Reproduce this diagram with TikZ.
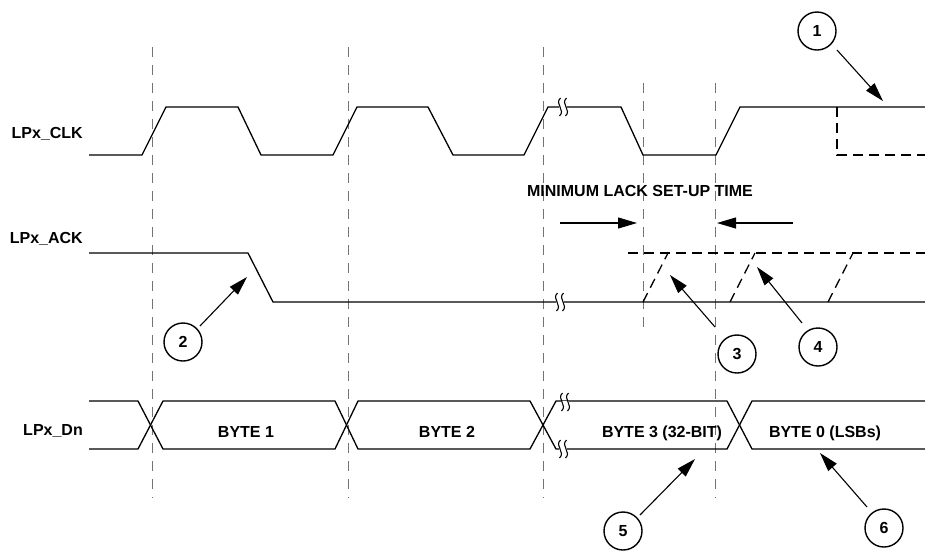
\documentclass[tikz,border=0pt]{standalone}
\usepackage{fontspec}
\setmainfont{Liberation Sans}
\usetikzlibrary{arrows.meta}
\begin{document}
\begin{tikzpicture}[x=1pt,y=-1pt,
  sig/.style={line width=1.3pt, line join=miter},
  gridline/.style={black!55, line width=0.9pt, dash pattern=on 10pt off 8pt},
  dsig/.style={line width=1.3pt, dash pattern=on 10pt off 6pt},
  lbl/.style={font=\fontsize{16}{19}\selectfont\bfseries, inner sep=0pt},
  callout/.style={circle, draw, line width=1.4pt, minimum size=38pt, inner sep=0pt, font=\fontsize{16}{19}\selectfont\bfseries},
  ptr/.style={-{Triangle[length=19pt,width=11pt]}, line width=1.1pt},
  brk/.pic={
    \fill[white] (-4,-1.3) rectangle (4,1.3);
    \draw[line width=1.1pt] (-2.5,-9) .. controls (-9,-3) and (3,3) .. (-3.5,9);
    \draw[line width=1.1pt] (3.5,-9) .. controls (-3,-3) and (9,3) .. (2.5,9);
  }]
\useasboundingbox (0,0) rectangle (925,550);

% vertical timing lines
\draw[gridline] (152,47) -- (152,498);
\draw[gridline] (348,47) -- (348,498);
\draw[gridline] (543,47) -- (543,498);
\draw[gridline] (643,83) -- (643,330);
\draw[gridline] (715,83) -- (715,498);

% signal labels
\node[lbl, anchor=base east] (lclk) at (83,138) {LPx\_CLK};
\node[lbl, anchor=base east] (lack) at (83,243) {LPx\_ACK};
\node[lbl, anchor=base east] (ldn) at (83,435) {LPx\_Dn};

% clock
\draw[sig] (89,155) -- (142,155) -- (166,107) -- (238,107) -- (261,155) -- (333,155) -- (357,107) -- (428,107) -- (453,155) -- (524,155) -- (548,107) -- (621,107) -- (643,155) -- (716,155) -- (740,107) -- (925,107);
\draw[dsig] (837,107) -- (837,155) -- (925,155);
\pic at (563,107) {brk};

% ack
\draw[sig] (89,253) -- (248,253) -- (273,302) -- (925,302);
\draw[dsig] (628,253) -- (925,253);
\draw[dsig] (643,302) -- (668,253);
\draw[dsig] (730,302) -- (755,253);
\draw[dsig] (828,302) -- (853,253);
\pic at (560,302) {brk};

% data
\draw[sig] (89,401) -- (138,401) -- (163,449) -- (335,449) -- (358,401) -- (530,401) -- (556,449) -- (727,449) -- (752,401) -- (925,401);
\draw[sig] (89,449) -- (138,449) -- (163,401) -- (335,401) -- (358,449) -- (530,449) -- (556,401) -- (727,401) -- (752,449) -- (925,449);
\pic at (565,402) {brk};
\pic at (563,449) {brk};

\node[lbl, anchor=base] (b1) at (246,437) {BYTE 1};
\node[lbl, anchor=base] (b2) at (447,437) {BYTE 2};
\node[lbl, anchor=base] (b3) at (662,437) {BYTE 3 (32-BIT)};
\node[lbl, anchor=base] (b0) at (825,437) {BYTE 0 (LSBs)};

% setup time
\node[lbl, anchor=base] (setup) at (640,196) {MINIMUM LACK SET-UP TIME};
\coordinate (sa1) at (560,223);
\coordinate (sa2) at (637,223);
\coordinate (sb1) at (793,223);
\coordinate (sb2) at (717,223);
\draw[ptr] (sa1) -- (sa2);
\draw[ptr] (sb1) -- (sb2);

% callouts
\node[callout] (c1) at (817,31) {1};
\node[callout] (c2) at (183,342) {2};
\node[callout] (c3) at (737,354) {3};
\node[callout] (c4) at (818,347) {4};
\node[callout] (c5) at (623,531) {5};
\node[callout] (c6) at (884,528) {6};

\coordinate (s1) at (837,50);  \coordinate (t1) at (883,101);
\coordinate (s2) at (200,326); \coordinate (t2) at (247,277);
\coordinate (s3) at (715,327); \coordinate (t3) at (670,275);
\coordinate (s4) at (802,323); \coordinate (t4) at (757,267);
\coordinate (s5) at (640,515); \coordinate (t5) at (695,459);
\coordinate (s6) at (867,507); \coordinate (t6) at (820,453);
\draw[ptr] (s1) -- (t1);
\draw[ptr] (s2) -- (t2);
\draw[ptr] (s3) -- (t3);
\draw[ptr] (s4) -- (t4);
\draw[ptr] (s5) -- (t5);
\draw[ptr] (s6) -- (t6);
\end{tikzpicture}
\end{document}
